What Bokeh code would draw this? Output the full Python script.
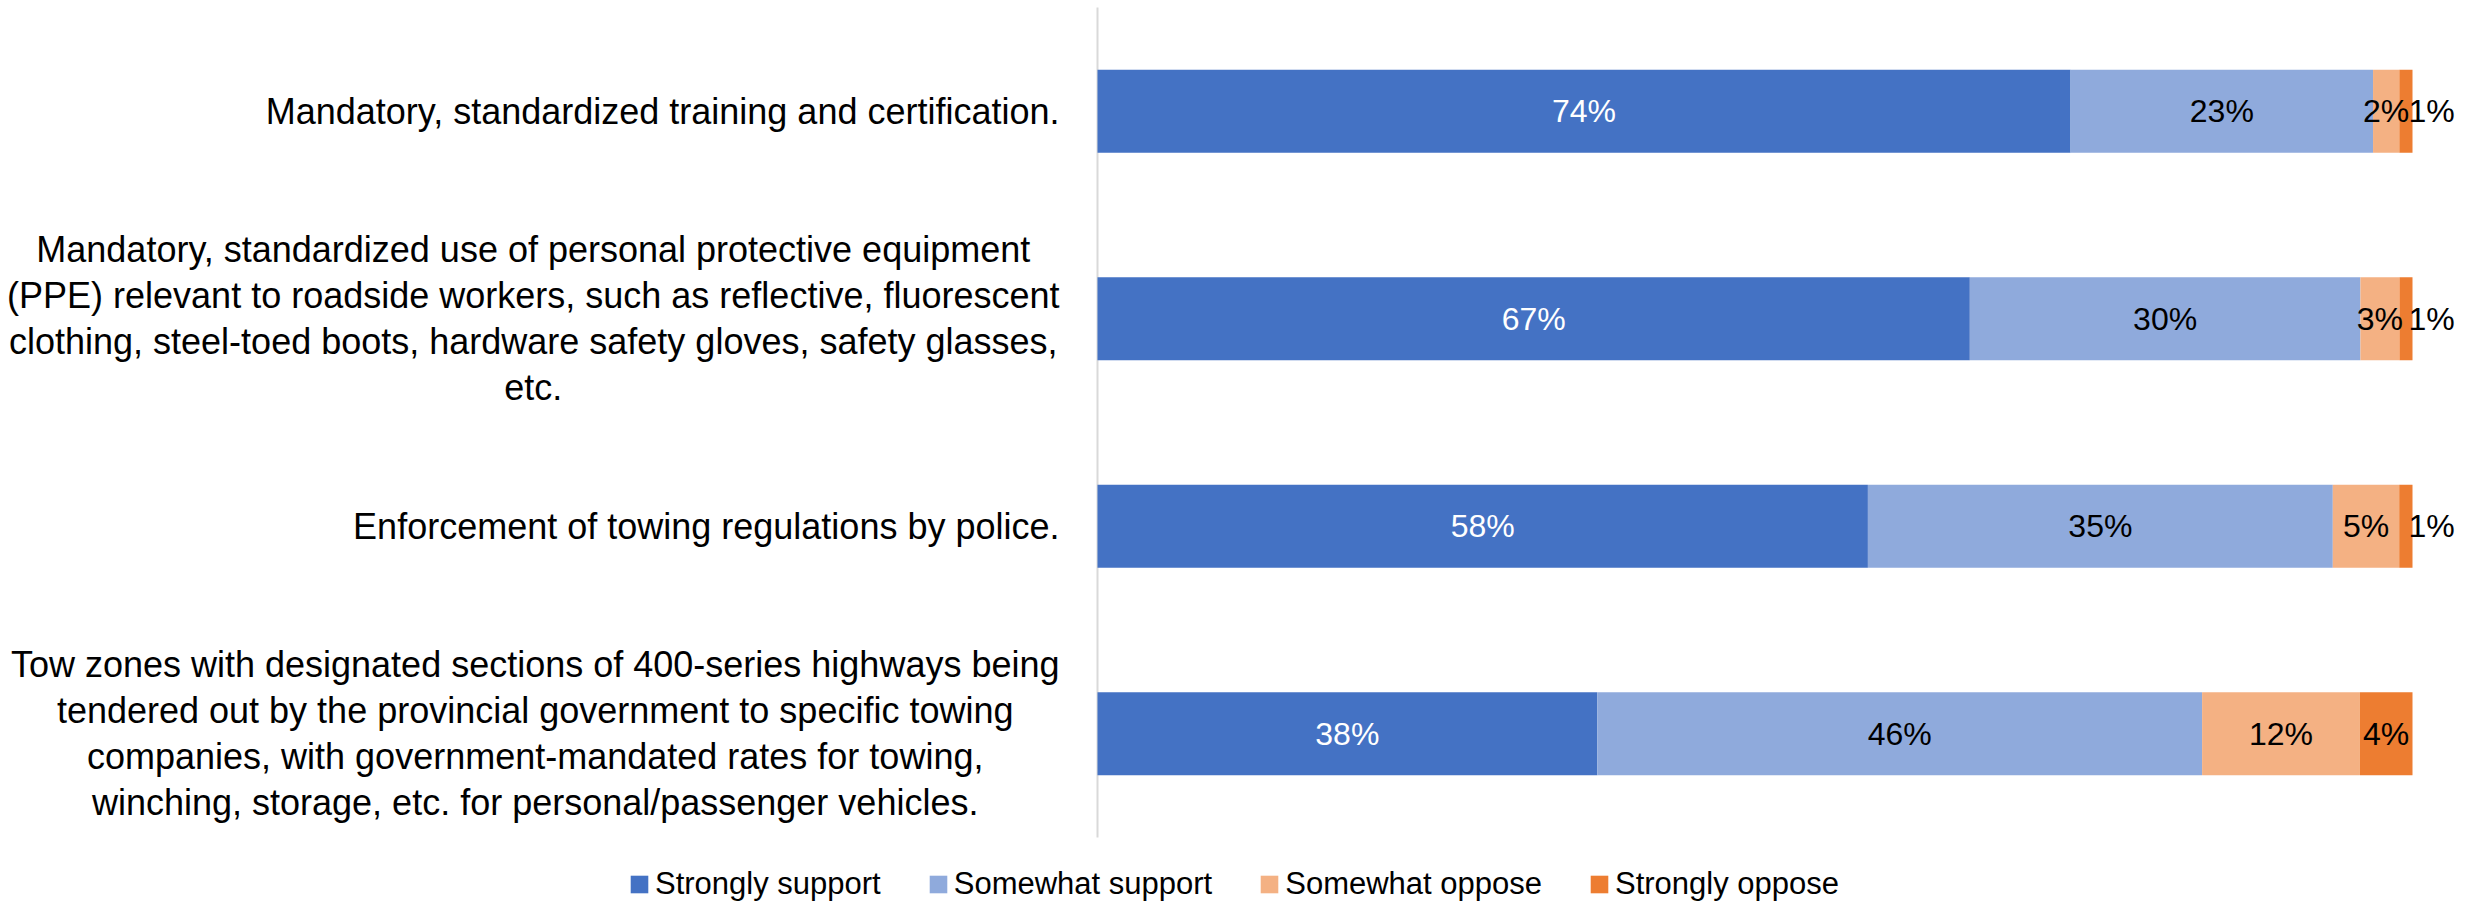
from bokeh.plotting import figure
from bokeh.models import ColumnDataSource, Range1d, Legend, LegendItem
from bokeh.embed import file_html
from bokeh.resources import INLINE

# ---------------- data ----------------
categories = [
    "Mandatory, standardized training and certification.",
    "Mandatory, standardized use of personal protective equipment\n(PPE) relevant to roadside workers, such as reflective, fluorescent\nclothing, steel-toed boots, hardware safety gloves, safety glasses,\netc.",
    "Enforcement of towing regulations by police.",
    "Tow zones with designated sections of 400-series highways being\ntendered out by the provincial government to specific towing\ncompanies, with government-mandated rates for towing,\nwinching, storage, etc. for personal/passenger vehicles.",
]
series_names = ["Strongly support", "Somewhat support", "Somewhat oppose", "Strongly oppose"]
strongly_support = [74, 67, 58, 38]
somewhat_support = [23, 30, 35, 46]
somewhat_oppose = [2, 3, 5, 12]
strongly_oppose = [1, 1, 1, 4]
colors = ["#4472C4", "#8FAADC", "#F4B183", "#ED7D31"]
label_colors = ["white", "black", "black", "black"]

series_values = [strongly_support, somewhat_support, somewhat_oppose, strongly_oppose]
FONT = "Liberation Sans"

# ---------------- figure ----------------
W, H = 2460, 902
n = len(categories)
px_per_unit = 13.15   # px per percentage point
origin_px = 1097      # px from canvas left to bar origin
band_px = 207.5       # px per category band
top_px = 7            # px above first band
x_start = -origin_px / px_per_unit
x_end = (W - origin_px) / px_per_unit
y_end = (n - 0.5) + top_px / band_px
y_start = y_end - H / band_px

# category i (top first) sits at y = n-1-i
ypos = [n - 1 - i for i in range(n)]

p = figure(
    width=W, height=H,
    x_range=Range1d(x_start, x_end), y_range=Range1d(y_start, y_end),
    output_backend="svg", toolbar_location=None,
    min_border_left=0, min_border_right=0, min_border_top=0, min_border_bottom=0,
)
p.xaxis.visible = False
p.yaxis.visible = False
p.xgrid.visible = False
p.ygrid.visible = False
p.outline_line_color = None
p.background_fill_color = "white"
p.border_fill_color = "white"

# axis line (category axis spanning all bands)
p.segment(x0=[0], x1=[0], y0=[-0.5], y1=[n - 0.5], line_color="#D9D9D9", line_width=2)

# normalized (100%) stacking
totals = [sum(v[i] for v in series_values) for i in range(n)]
lefts = [0.0] * n
renderers = []
lab_x, lab_y, lab_t, lab_c, lab_align, lab_off = [], [], [], [], [], []
for s, (name, vals, col, lcol) in enumerate(zip(series_names, series_values, colors, label_colors)):
    left = list(lefts)
    right = [l + v * 100.0 / t for l, v, t in zip(left, vals, totals)]
    src = ColumnDataSource(dict(y=ypos, left=left, right=right))
    r = p.hbar(y="y", left="left", right="right", height=0.4, source=src,
               fill_color=col, line_color=col, line_width=0)
    renderers.append(r)
    for i, v in enumerate(vals):
        if v <= 1 and s == len(series_values) - 1:
            lab_x.append(right[i]); lab_align.append("left"); lab_off.append(-4)
        else:
            lab_x.append((left[i] + right[i]) / 2); lab_align.append("center"); lab_off.append(0)
        lab_y.append(ypos[i]); lab_t.append(f"{v}%"); lab_c.append(lcol)
    lefts = right

lsrc = ColumnDataSource(dict(x=lab_x, y=lab_y, t=lab_t, c=lab_c, a=lab_align, o=lab_off))
p.text(x="x", y="y", text="t", source=lsrc, text_color="c", text_align="a",
       x_offset="o", text_baseline="middle", text_font={"value": FONT},
       text_font_size="32px")

# category labels
csrc = ColumnDataSource(dict(x=[-38 / px_per_unit] * n, y=ypos, t=categories))
p.text(x="x", y="y", text="t", source=csrc, anchor="center_right", text_align="center",
       text_baseline="middle", text_font={"value": FONT}, text_font_size="36px",
       text_color="black", text_line_height=1.12)

legend = Legend(
    items=[LegendItem(label=nm, renderers=[r]) for nm, r in zip(series_names, renderers)],
    orientation="horizontal", location=(628, 0),
    glyph_width=22, glyph_height=22, label_standoff=5, spacing=46,
    padding=0, margin=0, border_line_color=None, background_fill_alpha=0,
    label_text_font=FONT, label_text_font_size="31px", label_text_color="black",
)
p.add_layout(legend)

open("out.html", "w").write(file_html(p, INLINE))
